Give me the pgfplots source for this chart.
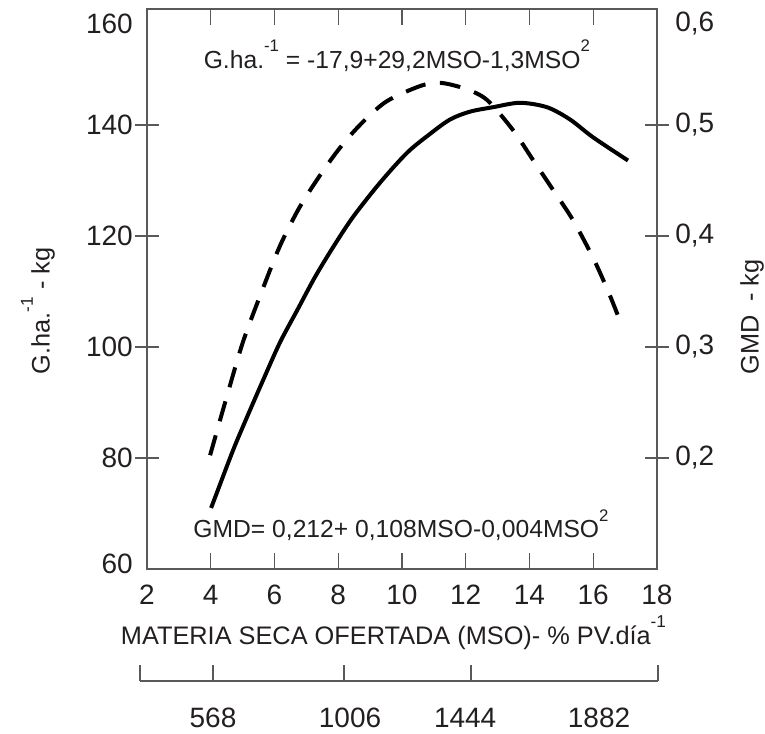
\documentclass[border=0pt]{standalone}
\usepackage{fontspec}
\setmainfont{Liberation Sans}
\usepackage{pgfplots}
\usepackage{pgfplotstable}
\pgfplotsset{compat=1.18}
\definecolor{axisgray}{HTML}{58595B}
\definecolor{txt}{HTML}{231F20}
\newcommand{\sups}[1]{\raisebox{0.66em}{\scalebox{0.68}{#1}}}

% G.ha^-1 (left axis, dashed)
\pgfplotstableread{
x y
3.98 80.5
4.50 91.0
5.01 100.9
5.60 110.0
6.17 118.2
6.75 124.8
7.33 130.1
8.00 135.5
8.68 140.0
9.50 144.2
10.56 147.0
11.20 147.6
12.00 146.5
12.67 144.5
13.48 139.1
14.11 133.7
14.74 128.3
15.36 122.9
16.00 116.0
16.50 109.6
16.90 103.8
}\ghadata

% GMD (right axis, solid)
\pgfplotstableread{
x y
4.01 0.155
4.13 0.164
4.70 0.207
5.14 0.237
5.64 0.270
6.17 0.304
6.71 0.333
7.27 0.363
7.84 0.390
8.46 0.417
9.31 0.448
10.16 0.475
10.88 0.492
11.51 0.505
12.13 0.512
12.85 0.516
13.70 0.520
14.55 0.516
15.27 0.505
15.99 0.489
17.09 0.468
}\gmddata

\pgfplotsset{
  myaxis/.style={
    scale only axis, width=382.5pt, height=420pt,
    at={(110.25pt,123pt)}, anchor=south west,
    xmin=2, xmax=18,
    axis line style={axisgray, line width=1pt},
    every tick/.style={axisgray, line width=1pt},
    tick label style={color=txt, font=\fontsize{21}{25}\selectfont},
    label style={color=txt, font=\fontsize{19}{23}\selectfont},
    /pgf/number format/assume math mode=true,
  }
}

\begin{document}
\begin{tikzpicture}
\useasboundingbox (0,0) rectangle (573.75pt,549.75pt);

% main box, x axis, dashed curve
\begin{axis}[myaxis,
  ymin=60, ymax=160.9,
  tick align=inside, major tick length=12pt,
  xtick={2,4,...,18}, ytick=\empty,
  xticklabel style={anchor=base, yshift=-26.5pt},
  xlabel={MATERIA SECA OFERTADA (MSO)- \% PV.día\sups{-1}},
  xlabel style={at={(axis description cs:0.4833,0)}, anchor=base, yshift=-56.25pt},
]
\addplot[black, line width=3pt, smooth, dash pattern=on 15.5pt off 11pt] table[x=x,y=y] {\ghadata};
\node[anchor=base, color=txt, font=\fontsize{18.5}{22}\selectfont] at (rel axis cs:0.490,0.8946)
  {G.ha.\sups{-1} = -17,9+29,2MSO-1,3MSO\sups{2}};
\node[anchor=base, color=txt, font=\fontsize{18.5}{22}\selectfont] at (rel axis cs:0.498,0.0554)
  {GMD= 0,212+ 0,108MSO-0,004MSO\sups{2}};
\end{axis}

% left y axis
\begin{axis}[myaxis,
  ymin=60, ymax=160.9,
  axis x line=none, axis y line*=left, y axis line style={-},
  tick align=center, major tick length=18pt,
  ytick={80,100,120,140},
  extra y ticks={60.9,158.2}, extra y tick labels={60,160},
  extra y tick style={major tick length=0pt, yticklabel style={xshift=-9pt}},
  yticklabel style={inner sep=0pt, anchor=east, xshift=-1.5pt},
  ylabel={G.ha.\sups{-1} - kg},
  ylabel style={at={(axis description cs:-0.2137,0.4607)}, anchor=center},
]
\end{axis}

% right y axis, solid curve
\begin{axis}[myaxis,
  ymin=0.1, ymax=0.6045,
  axis x line=none, axis y line*=right, y axis line style={-},
  tick align=center, major tick length=18pt,
  ytick={0.2,0.3,0.4,0.5}, yticklabels={0{,}2,0{,}3,0{,}4,0{,}5},
  extra y ticks={0.591}, extra y tick labels={0{,}6},
  extra y tick style={major tick length=0pt, yticklabel style={xshift=9pt}},
  yticklabel style={inner sep=0pt, anchor=west, xshift=4.5pt},
  ylabel={GMD\ \ - kg},
  ylabel style={at={(axis description cs:1.1863,0.45)}, anchor=center},
]
\addplot[black, line width=3pt, smooth] table[x=x,y=y] {\gmddata};
\end{axis}

% second scale below
\begin{axis}[
  scale only axis, width=388.5pt, height=10pt,
  at={(105pt,39pt)}, anchor=south west,
  xmin=1.78, xmax=18.03, ymin=0, ymax=1,
  axis x line*=bottom, axis y line=none,
  axis line style={axisgray, line width=1pt, -},
  every tick/.style={axisgray, line width=1pt},
  tick align=inside, major tick length=12pt,
  xtick={1.78,4.07,8.18,12.16,18.03}, xticklabels={,,,,},
  extra x ticks={4.07,8.37,11.98,16.18},
  extra x tick labels={568,1006,1444,1882},
  extra x tick style={major tick length=0pt, xticklabel style={anchor=base, yshift=-34.5pt}},
  tick label style={color=txt, font=\fontsize{21}{25}\selectfont},
  /pgf/number format/assume math mode=true,
]
\end{axis}
\end{tikzpicture}
\end{document}
